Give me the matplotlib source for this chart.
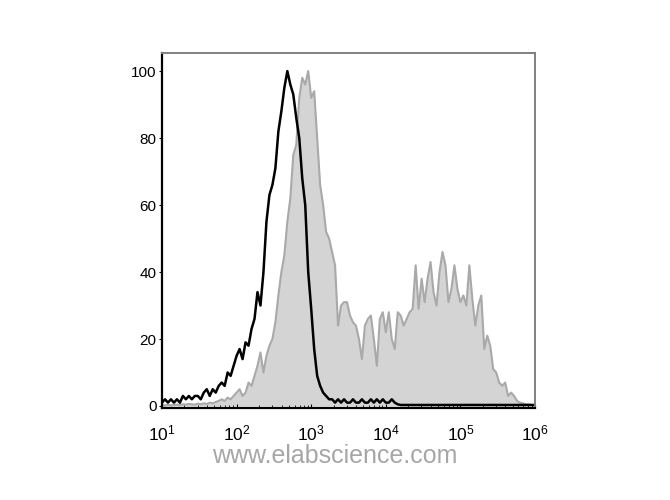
import numpy as np
import matplotlib
matplotlib.use("Agg")
import matplotlib.pyplot as plt
from matplotlib.ticker import LogLocator, FixedLocator

plt.rcParams['font.family'] = ['Liberation Sans', 'DejaVu Sans']
plt.rcParams['mathtext.fontset'] = 'custom'
plt.rcParams['mathtext.rm'] = 'Liberation Sans'
plt.rcParams['mathtext.it'] = 'Liberation Sans'

# histogram bins, log10 of fluorescence intensity (0.04 decade per bin)
log_bins = np.linspace(1.0, 6.0, 126)

# isotype control (black line), % of max
control = [1, 2, 1, 2, 1, 2, 1, 3, 2, 3,
           2, 3, 3, 2, 4, 5, 3, 5, 4, 6,
           7, 6, 10, 9, 12, 15, 17, 14, 19, 18,
           23, 26, 34, 30, 40, 55, 63, 66, 71, 82,
           88, 95, 100, 96, 93, 86, 80, 68, 60, 40,
           29, 17, 9, 6, 4, 3, 2, 2, 1, 2,
           1, 2, 1, 1, 2, 1, 1, 2, 1, 1,
           2, 1, 2, 1, 2, 1, 1, 2, 1, 0.5,
           0.3, 0.3, 0.3, 0.3, 0.3, 0.3, 0.3, 0.3, 0.3, 0.3,
           0.3, 0.3, 0.3, 0.3, 0.3, 0.3, 0.3, 0.3, 0.3, 0.3,
           0.3, 0.3, 0.3, 0.3, 0.3, 0.3, 0.3, 0.3, 0.3, 0.3,
           0.3, 0.3, 0.3, 0.3, 0.3, 0.3, 0.3, 0.3, 0.3, 0.3,
           0.3, 0.3, 0.3, 0.3, 0.3, 0.3]

# stained sample (grey filled), % of max
stained = [0.3, 0.2, 0.3, 0.2, 0.3, 0.4, 0.3, 0.5, 0.4, 0.6,
           0.5, 0.4, 0.7, 0.5, 0.8, 0.6, 1, 0.8, 1.2, 1.5,
           2, 1.5, 2.5, 2, 3, 4, 5, 3, 4, 7,
           6, 9, 12, 16, 10, 15, 18, 20, 25, 33,
           40, 45, 55, 62, 75, 78, 92, 98, 96, 100,
           92, 94, 80, 66, 60, 52, 50, 46, 42, 24,
           30, 31, 31, 27, 25, 24, 20, 14, 24, 26,
           27, 20, 12, 26, 28, 22, 28, 20, 17, 28,
           27, 24, 26, 28, 29, 42, 29, 38, 31, 38,
           43, 34, 30, 40, 46, 42, 31, 35, 42, 35,
           31, 33, 30, 42, 32, 24, 30, 33, 17, 21,
           18, 11, 10, 7, 6, 7, 3, 4, 3, 1.5,
           1, 0.8, 0.5, 0.5, 0.3, 0.3]

x = 10 ** log_bins

fig = plt.figure(figsize=(6.7, 5), dpi=100)
ax = fig.add_axes([0.2418, 0.184, 0.5567, 0.710])

ax.fill_between(x, stained, 0, color='#d4d4d4', lw=0)
ax.plot(x, stained, color='#a9a9a9', lw=1.5)
ax.plot(x, control, color='black', lw=1.8)

ax.set_xscale('log')
ax.set_xlim(10, 1e6)
ax.set_ylim(-0.6, 105.4)

ax.xaxis.set_major_locator(FixedLocator([1e1, 1e2, 1e3, 1e4, 1e5, 1e6]))
ax.xaxis.set_minor_locator(LogLocator(base=10, subs=np.arange(2, 10), numticks=20))
ax.set_xticklabels([r'$10^{1}$', r'$10^{2}$', r'$10^{3}$', r'$10^{4}$', r'$10^{5}$', r'$10^{6}$'])
ax.set_yticks([0, 20, 40, 60, 80, 100])

ax.tick_params(axis='x', which='major', direction='in', length=3, pad=11, labelsize=12.5)
ax.tick_params(axis='x', which='minor', direction='in', length=2)
ax.tick_params(axis='y', direction='out', length=2, pad=2, labelsize=11)

for side in ['left', 'bottom']:
    ax.spines[side].set_color('black')
    ax.spines[side].set_linewidth(1.6)
for side in ['top', 'right']:
    ax.spines[side].set_color('#808080')
    ax.spines[side].set_linewidth(1.4)

fig.text(0.5, 0.088, 'www.elabscience.com', ha='center', va='center',
         fontsize=18, color='#a6a6a6')

fig.savefig('out.png', dpi=100)
